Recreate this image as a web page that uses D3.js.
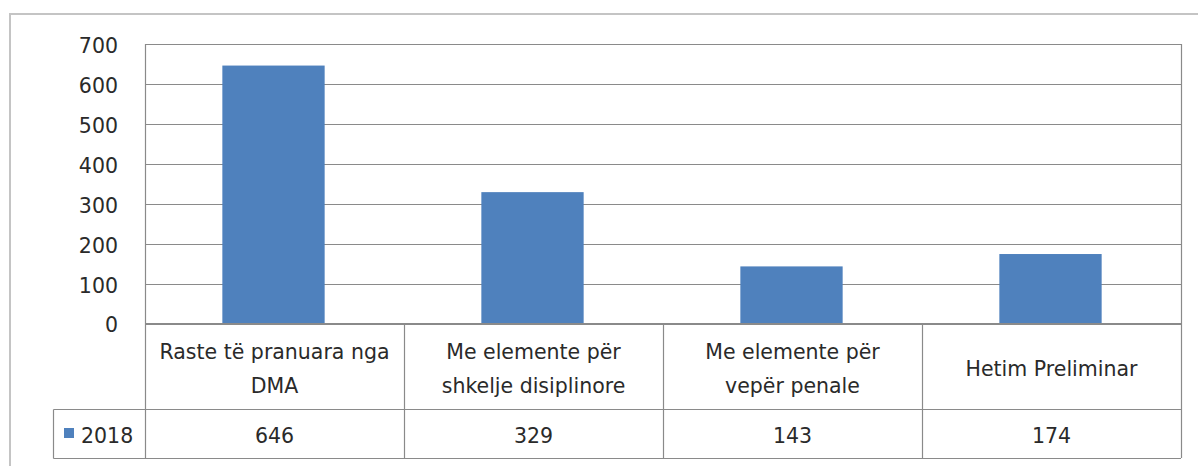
<!DOCTYPE html>
<html><head><meta charset="utf-8">
<script src="https://cdn.jsdelivr.net/npm/d3@7"></script>
<style>body{margin:0;background:#fff}svg{display:block}text{font-family:"DejaVu Sans",Verdana,sans-serif;fill:#2a2a2a}</style>
</head><body><svg id="c" width="1198" height="466"></svg>
<script>
const categories = [["Raste të pranuara nga","DMA"],["Me elemente për","shkelje disiplinore"],["Me elemente për","vepër penale"],["Hetim Preliminar"]];
const seriesName = "2018";
const values = [646, 329, 143, 174];
const yTicks = [0,100,200,300,400,500,600,700];

const svg = d3.select("#c");
const L=145, R=1181, T=44, B=323.5;
const FS=20.5, capOff=FS*0.365;
const x = d3.scaleBand().domain(d3.range(categories.length)).range([L,R]).paddingInner(0).paddingOuter(0);
const y = d3.scaleLinear().domain([0,700]).range([B,T]);
const gray="#8a8a8a";

// outer border
svg.append("rect").attr("x",10).attr("y",14).attr("width",1250).attr("height",500).attr("fill","none").attr("stroke","#c4c4c4").attr("stroke-width",2);

// gridlines
svg.append("g").selectAll("line").data(yTicks).join("line")
  .attr("x1",L).attr("x2",R).attr("y1",d=>Math.round(y(d))+0.5).attr("y2",d=>Math.round(y(d))+0.5)
  .attr("stroke",gray).attr("stroke-width",1.2);

// y axis labels
svg.append("g").selectAll("text").data(yTicks).join("text")
  .attr("x",118).attr("y",d=>y(d)+1.5+capOff).attr("text-anchor","end")
  .attr("font-size",FS).text(d=>d);

// bars
const bw = x.bandwidth()*0.395;
svg.append("g").selectAll("rect").data(values).join("rect")
  .attr("x",(d,i)=>x(i)+x.bandwidth()/2-bw/2-1).attr("width",bw)
  .attr("y",d=>y(d)).attr("height",d=>B-y(d)).attr("fill","#4f81bd");

// plot frame (left/right edges)
svg.append("line").attr("x1",L+0.5).attr("x2",L+0.5).attr("y1",T).attr("y2",458).attr("stroke",gray).attr("stroke-width",1.2);
svg.append("line").attr("x1",R+0.5).attr("x2",R+0.5).attr("y1",T).attr("y2",458).attr("stroke",gray).attr("stroke-width",1.2);

// data table
const rowTop=323.5, rowMid=409.5, rowBot=458.5, legL=53.5;
const tg=svg.append("g").attr("stroke",gray).attr("stroke-width",1.2);
tg.append("line").attr("x1",L).attr("x2",R).attr("y1",rowTop).attr("y2",rowTop);
tg.append("line").attr("x1",legL).attr("x2",R).attr("y1",rowMid).attr("y2",rowMid);
tg.append("line").attr("x1",legL).attr("x2",R).attr("y1",rowBot).attr("y2",rowBot);
tg.append("line").attr("x1",legL).attr("x2",legL).attr("y1",rowMid).attr("y2",rowBot);
tg.selectAll("line.v").data(d3.range(1,categories.length)).join("line").attr("class","v")
  .attr("x1",i=>Math.round(x(i))+0.5).attr("x2",i=>Math.round(x(i))+0.5).attr("y1",rowTop).attr("y2",rowBot);

// category labels
const cg=svg.append("g");
categories.forEach((lines,i)=>{
  const cx=x(i)+x.bandwidth()/2, cy=(rowTop+rowMid)/2+2.5, lh=34;
  lines.forEach((s,j)=>{
    cg.append("text").attr("x",cx).attr("y",cy+(j-(lines.length-1)/2)*lh+capOff)
      .attr("text-anchor","middle").attr("font-size",FS).text(s);
  });
});
// values row
const vy=(rowMid+rowBot)/2+1.5;
svg.append("g").selectAll("text").data(values).join("text")
  .attr("x",(d,i)=>x(i)+x.bandwidth()/2).attr("y",vy+capOff)
  .attr("text-anchor","middle").attr("font-size",FS).text(d=>d);
// legend
svg.append("rect").attr("x",64).attr("y",428).attr("width",10).attr("height",10).attr("fill","#4f81bd");
svg.append("text").attr("x",81).attr("y",vy+capOff).attr("font-size",FS).text(seriesName);
</script></body></html>
